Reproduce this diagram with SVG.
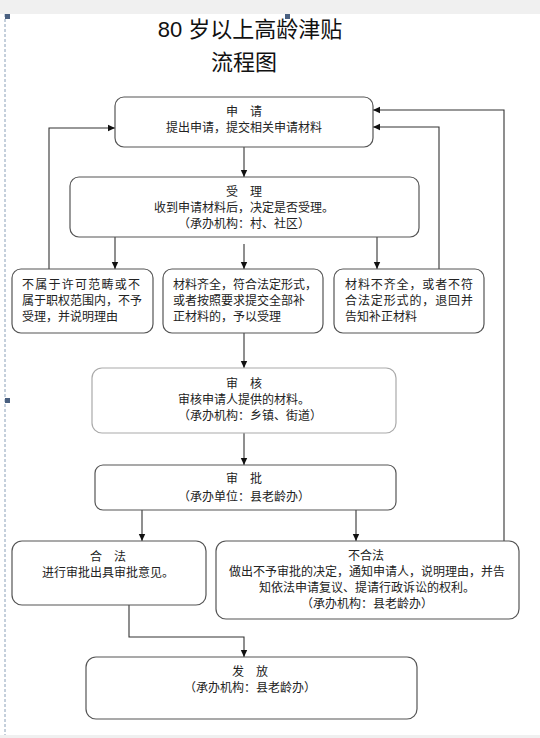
<svg xmlns="http://www.w3.org/2000/svg" width="540" height="738" viewBox="0 0 540 738">
<defs>
<style>
.box{fill:#fff;stroke:#555;stroke-width:1.2}
.lite{fill:#fff;stroke:#aaa;stroke-width:1.2}
.t{font-family:"Noto Sans CJK SC","Liberation Sans",sans-serif;font-size:12px;fill:#222;text-anchor:middle}
.tl{font-family:"Noto Sans CJK SC","Liberation Sans",sans-serif;font-size:12px;fill:#222}
.title{font-family:"Liberation Sans","Noto Sans CJK SC",sans-serif;font-size:22px;fill:#111;text-anchor:middle}
.c{fill:none;stroke:#333;stroke-width:1.1}
</style>
<marker id="ah" markerWidth="8" markerHeight="8" refX="7" refY="4" orient="auto" markerUnits="userSpaceOnUse">
<path d="M0,0.8 L7,4 L0,7.2 Z" fill="#111"/>
</marker>
</defs>
<rect x="0" y="0" width="540" height="738" fill="#fff"/>
<rect x="0" y="0" width="540" height="14" fill="#f0f0f0"/>
<rect x="0" y="735" width="540" height="3" fill="#f0f0f0"/>
<line x1="5" y1="14" x2="5" y2="735" stroke="#8aa0b8" stroke-width="1" stroke-dasharray="3,2"/>
<rect x="5" y="14" width="5" height="5" fill="#4a6080"/>
<rect x="285" y="14" width="5" height="5" fill="#4a6080"/>
<rect x="5" y="398" width="5" height="5" fill="#4a6080"/>
<g id="title">
<text class="title" x="250" y="37">80 岁以上高龄津贴</text>
<text class="title" x="244" y="70">流程图</text>
</g>
<g id="connectors">
<line class="c" x1="244" y1="147" x2="244" y2="177" marker-end="url(#ah)"/>
<line class="c" x1="115" y1="237" x2="115" y2="269" marker-end="url(#ah)"/>
<line class="c" x1="244" y1="244" x2="244" y2="269" marker-end="url(#ah)"/>
<line class="c" x1="377" y1="237" x2="377" y2="269" marker-end="url(#ah)"/>
<polyline class="c" points="49,269 49,128 115,128" marker-end="url(#ah)"/>
<polyline class="c" points="439,269 439,127 373,127" marker-end="url(#ah)"/>
<polyline class="c" points="504,541 504,110 373,110" marker-end="url(#ah)"/>
<line class="c" x1="244" y1="333" x2="244" y2="368" marker-end="url(#ah)"/>
<line class="c" x1="244" y1="433" x2="244" y2="465" marker-end="url(#ah)"/>
<line class="c" x1="142" y1="510" x2="142" y2="541" marker-end="url(#ah)"/>
<line class="c" x1="356" y1="510" x2="356" y2="541" marker-end="url(#ah)"/>
<polyline class="c" points="129,605 129,637 244,637 244,657" marker-end="url(#ah)"/>
</g>
<g id="apply">
<rect class="box" x="115" y="97" width="258" height="50" rx="9"/>
<text class="t" x="244" y="116">申　请</text>
<text class="t" x="244" y="132">提出申请，提交相关申请材料</text>
</g>
<g id="accept">
<rect class="box" x="70" y="177" width="349" height="60" rx="9"/>
<text class="t" x="244" y="196">受　理</text>
<text class="t" x="244" y="212">收到申请材料后，决定是否受理。</text>
<text class="t" x="244" y="228">（承办机构：村、社区）</text>
</g>
<g id="reject">
<rect class="box" x="12" y="269" width="141" height="64" rx="9"/>
<text class="tl" x="22" y="289" textLength="118" lengthAdjust="spacing">不属于许可范畴或不</text>
<text class="tl" x="22" y="305">属于职权范围内，不予</text>
<text class="tl" x="22" y="321">受理，并说明理由</text>
</g>
<g id="complete">
<rect class="box" x="163" y="269" width="160" height="64" rx="9"/>
<text class="tl" x="173" y="289">材料齐全，符合法定形式，</text>
<text class="tl" x="173" y="305">或者按照要求提交全部补</text>
<text class="tl" x="173" y="321">正材料的，予以受理</text>
</g>
<g id="incomplete">
<rect class="box" x="334" y="269" width="150" height="64" rx="9"/>
<text class="tl" x="345" y="289" textLength="128" lengthAdjust="spacing">材料不齐全，或者不符</text>
<text class="tl" x="345" y="305" textLength="128" lengthAdjust="spacing">合法定形式的，退回并</text>
<text class="tl" x="345" y="321">告知补正材料</text>
</g>
<g id="review">
<rect class="lite" x="92" y="368" width="304" height="65" rx="10"/>
<text class="t" x="244" y="388">审　核</text>
<text class="t" x="244" y="404">审核申请人提供的材料。</text>
<text class="t" x="250" y="420">（承办机构：乡镇、街道）</text>
</g>
<g id="approve">
<rect class="box" x="95" y="465" width="301" height="45" rx="8"/>
<text class="t" x="244" y="483">审　批</text>
<text class="t" x="244" y="501">（承办单位：县老龄办）</text>
</g>
<g id="legal">
<rect class="box" x="12" y="541" width="194" height="64" rx="10"/>
<text class="t" x="108" y="561">合　法</text>
<text class="t" x="108" y="577">进行审批出具审批意见。</text>
</g>
<g id="illegal">
<rect class="box" x="216" y="541" width="303" height="78" rx="10"/>
<text class="t" x="366" y="560">不合法</text>
<text class="t" x="367" y="576">做出不予审批的决定，通知申请人，说明理由，并告</text>
<text class="t" x="367" y="592">知依法申请复议、提请行政诉讼的权利。</text>
<text class="t" x="367" y="608">（承办机构：县老龄办）</text>
</g>
<g id="issue">
<rect class="box" x="86" y="657" width="331" height="62" rx="10"/>
<text class="t" x="250" y="676">发　放</text>
<text class="t" x="250" y="692">（承办机构：县老龄办）</text>
</g>
</svg>
